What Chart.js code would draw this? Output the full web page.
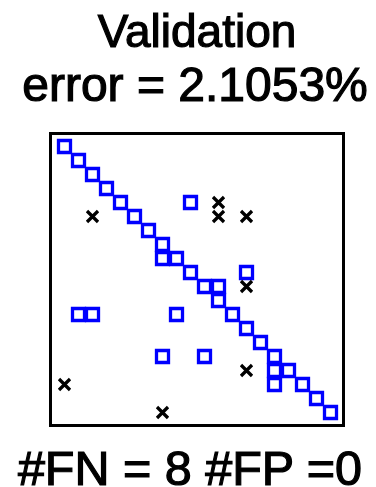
<!DOCTYPE html>
<html>
<head>
<meta charset="utf-8">
<script src="https://cdn.jsdelivr.net/npm/chart.js@4.4.1/dist/chart.umd.min.js"></script>
<style>
  body { margin: 0; background: #fff; }
  #wrap { position: relative; width: 376px; height: 487px; }
  .label {
    position: absolute;
    left: 0;
    width: 376px;
    text-align: center;
    font-family: "Liberation Sans", Arial, sans-serif;
    font-size: 48px;
    line-height: 48px;
    color: #000;
    -webkit-text-stroke: 1.2px #000;
    white-space: pre;
  }
</style>
</head>
<body>
<div id="wrap">
  <canvas id="chart" width="376" height="487"></canvas>
  <div class="label" style="top:7px; left:9px; font-size:46px">Validation</div>
  <div class="label" style="top:61px; left:7px">error = 2.1053%</div>
  <div class="label" style="top:444px; left:2px; font-size:48.5px">#FN = 8 #FP =0</div>
</div>
<script>
// matched cells (blue squares): column / row in the matrix
const hitCols = [1, 2, 3, 4, 5, 6, 7, 8, 8, 9, 10, 11, 12, 12, 13, 14, 15, 16, 16, 17, 16, 18, 19, 20, 10, 14, 2, 3, 9, 8, 11];
const hitRows = [1, 2, 3, 4, 5, 6, 7, 8, 9, 9, 10, 11, 11, 12, 13, 14, 15, 16, 17, 17, 18, 18, 19, 20, 5, 10, 13, 13, 13, 16, 16];

// false negatives (black crosses)
const missCols = [12, 12, 14, 3, 14, 14, 1, 8];
const missRows = [5, 6, 6, 6, 11, 17, 18, 20];

const GRID_MAX = 21;
const MARK_WIDTH = 3.3;

const toPoints = (xs, ys) => xs.map((x, i) => ({ x, y: ys[i] }));

// box around the plot area (sits a pixel inside on three sides)
const frame = {
  id: 'frame',
  afterDraw(chart) {
    const { ctx, chartArea: a } = chart;
    ctx.save();
    ctx.strokeStyle = '#000';
    ctx.lineWidth = 3;
    ctx.strokeRect(a.left, a.top + 1, a.right - a.left - 1, a.bottom - a.top - 2);
    ctx.restore();
  }
};

new Chart(document.getElementById('chart'), {
  type: 'scatter',
  data: {
    datasets: [
      {
        label: 'FN',
        data: toPoints(missCols, missRows),
        pointStyle: 'crossRot',
        pointRadius: 7.8,
        pointBorderColor: '#000',
        pointBorderWidth: MARK_WIDTH,
        order: 0
      },
      {
        label: 'hits',
        data: toPoints(hitCols, hitRows),
        pointStyle: 'rect',
        pointRadius: 8.49,
        pointBorderColor: '#0000ff',
        pointBackgroundColor: 'rgba(0,0,0,0)',
        pointBorderWidth: MARK_WIDTH,
        order: 1
      }
    ]
  },
  options: {
    responsive: false,
    animation: false,
    layout: { padding: { left: 50.5, right: 31.5, top: 132.5, bottom: 60.5 } },
    scales: {
      x: { display: false, min: 0, max: GRID_MAX },
      y: { display: false, min: 0, max: GRID_MAX, reverse: true }
    },
    plugins: {
      legend: { display: false },
      tooltip: { enabled: false }
    }
  },
  plugins: [frame]
});
</script>
</body>
</html>
